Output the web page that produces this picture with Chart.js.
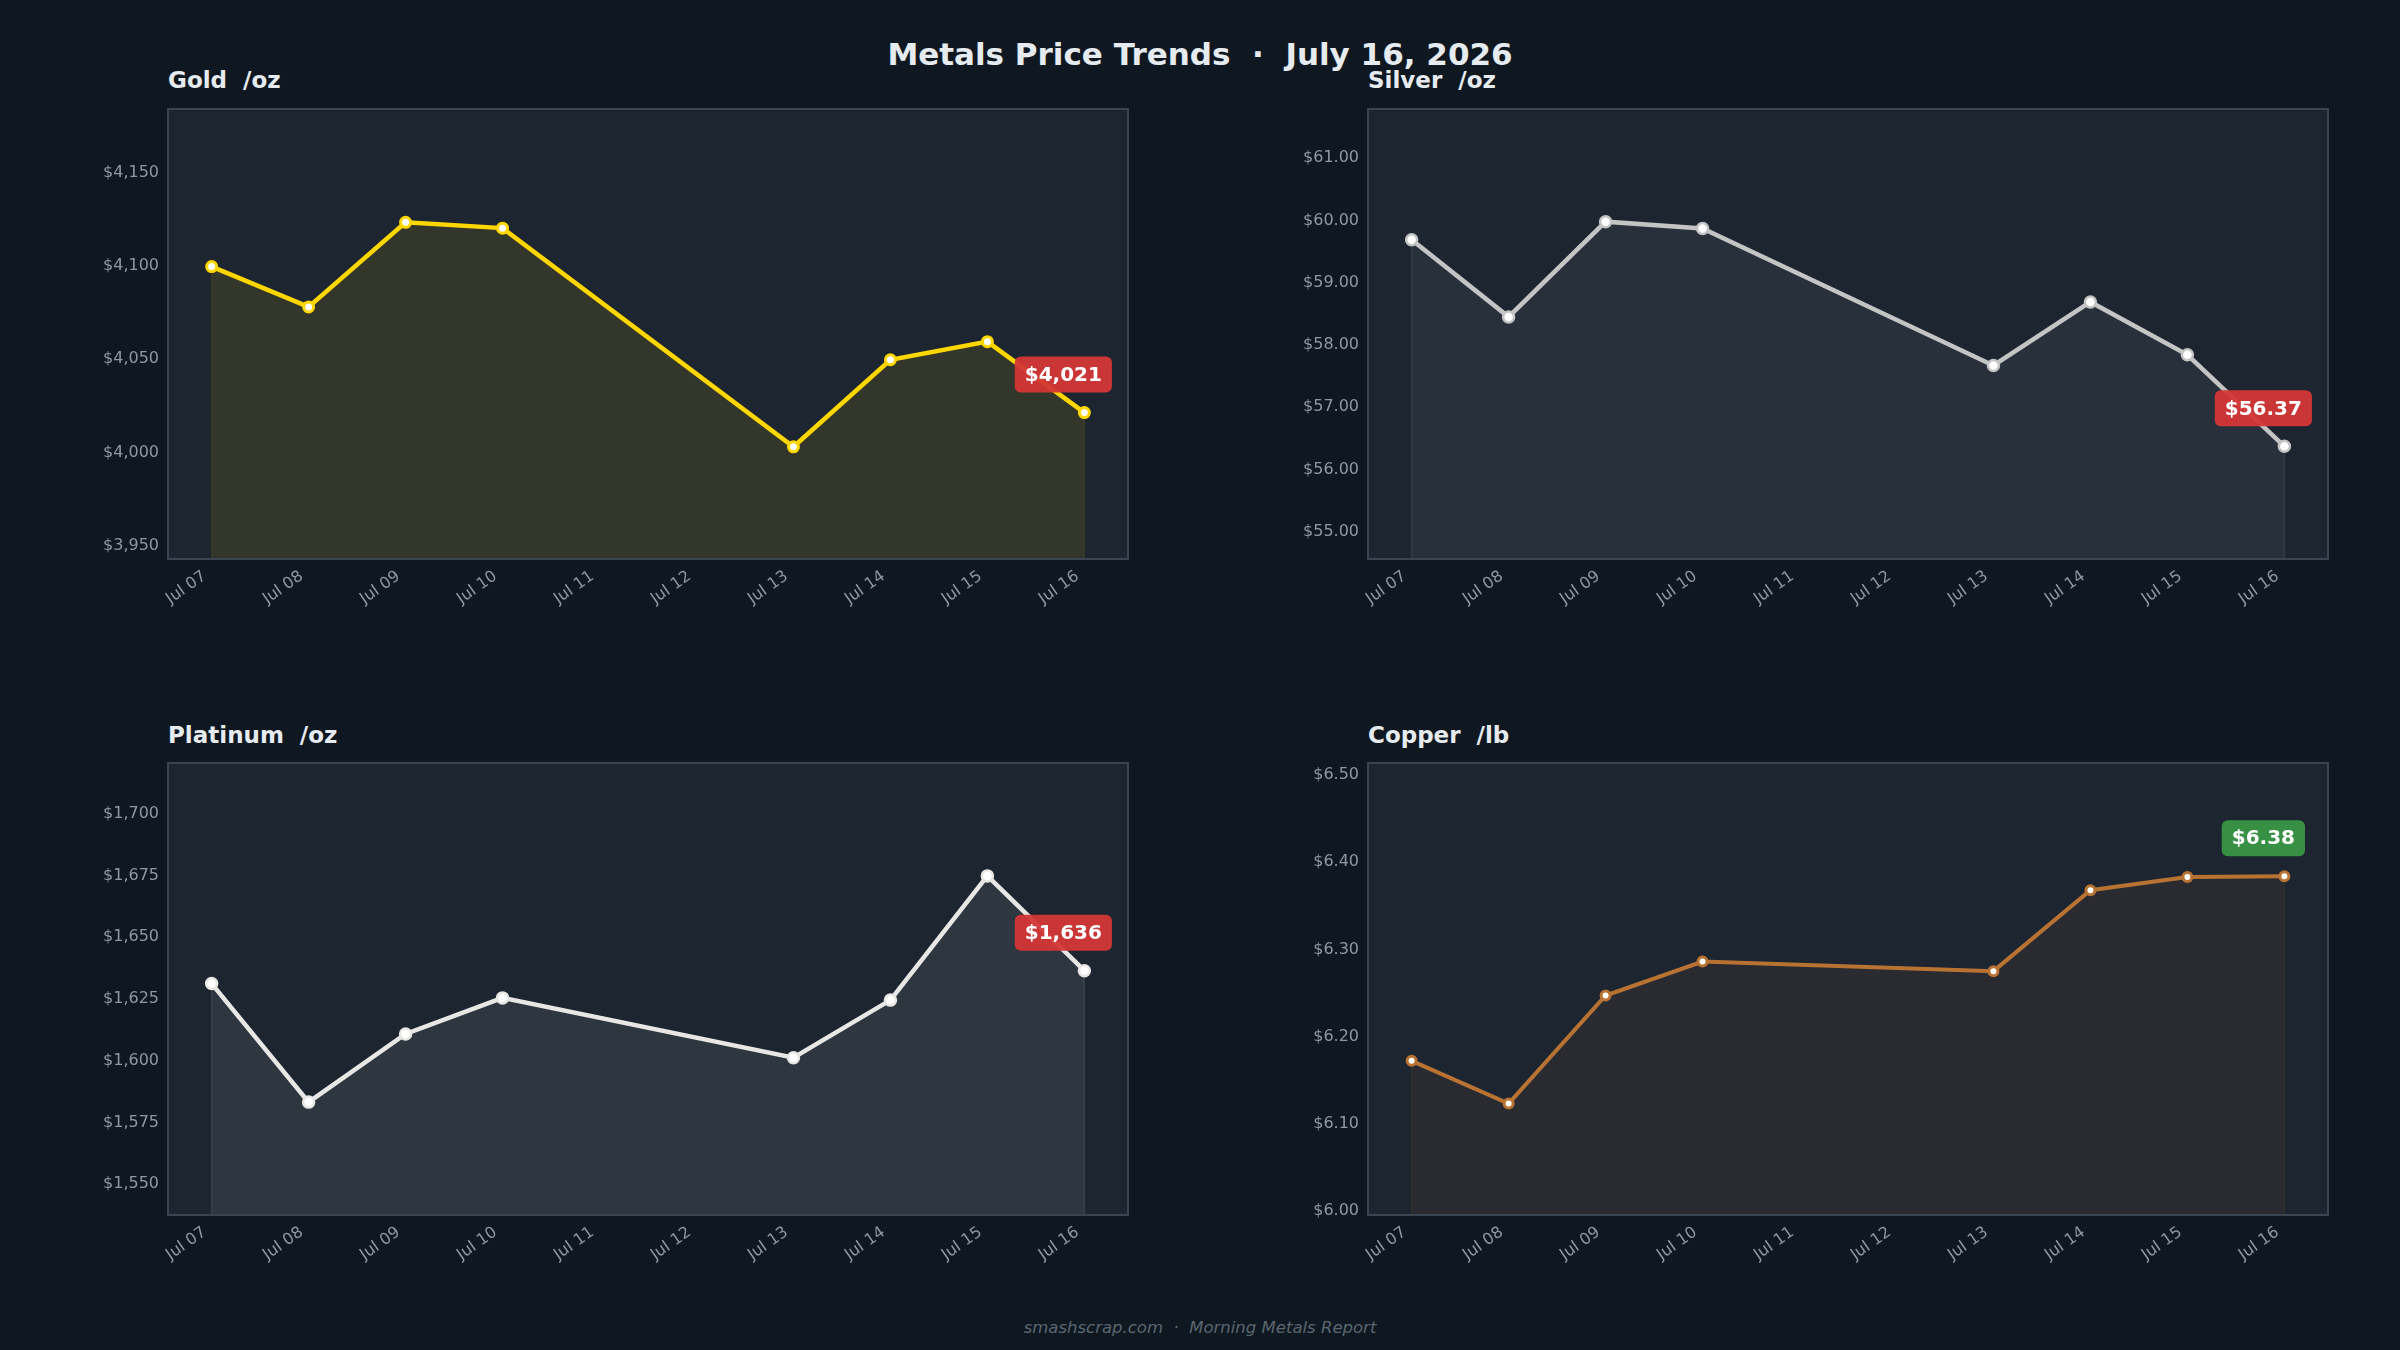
<!DOCTYPE html>
<html>
<head>
<meta charset="utf-8">
<script src="https://cdn.jsdelivr.net/npm/chart.js@4.4.1/dist/chart.umd.min.js"></script>
<style>
  html, body { margin: 0; padding: 0; background: #0f1821; }
  body { width: 2400px; height: 1350px; position: relative; overflow: hidden; font-family: "DejaVu Sans", sans-serif; }
  canvas { position: absolute; }
  .title { position: absolute; left: 0; width: 2400px; top: 36px; text-align: center; color: #e6ebf0; font-weight: bold; font-size: 31px; line-height: 36px; white-space: pre; }
  .ptitle { position: absolute; color: #e6ebf0; font-weight: bold; font-size: 23px; line-height: 26px; white-space: pre; }
  .footer { position: absolute; left: 0; width: 2400px; top: 1318px; text-align: center; color: #5b6670; font-style: italic; font-size: 16.5px; line-height: 20px; white-space: pre; }
</style>
</head>
<body>
<div class="title">Metals Price Trends  ·  July 16, 2026</div>
<div class="ptitle" style="left:168px; top:67px;">Gold  /oz</div>
<div class="ptitle" style="left:1368px; top:67px;">Silver  /oz</div>
<div class="ptitle" style="left:168px; top:722px;">Platinum  /oz</div>
<div class="ptitle" style="left:1368px; top:722px;">Copper  /lb</div>
<canvas id="gold" width="1140" height="540" style="left:0px; top:100px;"></canvas>
<canvas id="silver" width="1140" height="540" style="left:1200px; top:100px;"></canvas>
<canvas id="platinum" width="1140" height="542" style="left:0px; top:754px;"></canvas>
<canvas id="copper" width="1140" height="542" style="left:1200px; top:754px;"></canvas>
<div class="footer">smashscrap.com  ·  Morning Metals Report</div>

<script>
// dates on the x axis (Jul 11 / 12 have no prices)
const days = ['Jul 07', 'Jul 08', 'Jul 09', 'Jul 10', 'Jul 11', 'Jul 12', 'Jul 13', 'Jul 14', 'Jul 15', 'Jul 16'];

const gold     = [4099.6, 4078.0, 4123.3, 4120.2, null, null, 4003.1, 4049.7, 4059.4, 4021.4];
const silver   = [59.69, 58.45, 59.98, 59.87, null, null, 57.67, 58.69, 57.84, 56.37];
const platinum = [1631.2, 1583.2, 1610.8, 1625.4, null, null, 1601.2, 1624.5, 1674.8, 1636.4];
const copper   = [6.172, 6.123, 6.247, 6.286, null, null, 6.275, 6.368, 6.383, 6.384];

// y limits and tick steps
const goldRange = [3943, 4184];
const silverRange = [54.56, 61.79];
const platinumRange = [1537.5, 1720.5];
const copperRange = [5.995, 6.514];
const goldStep = 50, silverStep = 1, platinumStep = 25, copperStep = 0.1;

const money0 = v => '$' + Math.round(v).toLocaleString('en-US');
const money2 = v => '$' + Number(v).toFixed(2);

const panelBg = '#1c2530';
const panelBorder = '#3a4551';
const tickColor = '#8e98a3';

function panelPlugin(fmt, edge) {
  return {
    id: 'panel',
    beforeDraw(chart) {
      const { ctx, chartArea: a } = chart;
      ctx.save();
      ctx.fillStyle = panelBg;
      ctx.fillRect(a.left, a.top, a.right - a.left, a.bottom - a.top);
      ctx.restore();
    },
    beforeDatasetsDraw(chart) {
      // faint vertical edges of the filled area
      const { ctx, chartArea: a } = chart;
      const pts = chart.getDatasetMeta(0).data;
      ctx.save();
      ctx.strokeStyle = edge;
      ctx.lineWidth = 1.5;
      [pts[0], pts[pts.length - 1]].forEach(p => {
        ctx.beginPath();
        ctx.moveTo(p.x, p.y);
        ctx.lineTo(p.x, a.bottom);
        ctx.stroke();
      });
      ctx.restore();
    },
    afterDatasetsDraw(chart) {
      const { ctx, chartArea: a } = chart;
      ctx.save();
      ctx.strokeStyle = panelBorder;
      ctx.lineWidth = 2;
      ctx.strokeRect(a.left, a.top, a.right - a.left, a.bottom - a.top);
      ctx.restore();
    },
    afterDraw(chart) {
      // last-price badge
      const pts = chart.getDatasetMeta(0).data;
      const last = pts[pts.length - 1];
      const vals = chart.data.datasets[0].data;
      const up = vals[vals.length - 1].y >= vals[vals.length - 2].y;
      const text = fmt(vals[vals.length - 1].y);
      const ctx = chart.ctx;
      ctx.save();
      ctx.font = 'bold 20px "DejaVu Sans"';
      const w = ctx.measureText(text).width + 20;
      const h = 36;
      const cx = last.x - 21, cy = last.y - 38;
      ctx.fillStyle = up ? 'rgba(58,150,70,0.95)' : 'rgba(212,54,54,0.95)';
      ctx.beginPath();
      ctx.roundRect(cx - w / 2, cy - h / 2, w, h, 6);
      ctx.fill();
      ctx.fillStyle = '#ffffff';
      ctx.textAlign = 'center';
      ctx.textBaseline = 'middle';
      ctx.fillText(text, cx, cy + 1);
      ctx.restore();
    }
  };
}

function drawPanel(id, values, range, step, fmt, style) {
  const pts = days.map((d, i) => ({ x: i, y: values[i] })).filter(p => p.y !== null);
  new Chart(document.getElementById(id), {
    type: 'line',
    data: {
      datasets: [{
        data: pts,
        borderColor: style.line,
        borderWidth: style.width,
        backgroundColor: style.fill,
        fill: 'start',
        tension: 0,
        pointRadius: style.r,
        pointBorderWidth: style.bw,
        pointBorderColor: style.line,
        pointBackgroundColor: '#ffffff',
        clip: false
      }]
    },
    options: {
      responsive: false,
      animation: false,
      devicePixelRatio: 1,
      layout: { padding: { top: 9, right: 12, left: 0, bottom: 0 } },
      plugins: {
        legend: { display: false },
        tooltip: { enabled: false }
      },
      scales: {
        x: {
          type: 'linear',
          min: -0.45,
          max: 9.45,
          grid: { display: false, drawTicks: false },
          border: { display: false },
          afterFit: s => { s.height = 81; s.paddingLeft = 0; s.paddingRight = 0; },
          ticks: {
            stepSize: 1,
            includeBounds: false,
            autoSkip: false,
            minRotation: 35,
            maxRotation: 35,
            padding: 8,
            labelOffset: -7,
            color: tickColor,
            font: { family: 'DejaVu Sans', size: 16 },
            callback: v => days[v]
          }
        },
        y: {
          min: range[0],
          max: range[1],
          grid: { display: false, drawTicks: false },
          border: { display: false },
          afterFit: s => { s.width = 168; s.paddingTop = 0; s.paddingBottom = 0; },
          ticks: {
            stepSize: step,
            includeBounds: false,
            padding: 9,
            color: tickColor,
            font: { family: 'DejaVu Sans', size: 16 },
            callback: v => fmt(v)
          }
        }
      }
    },
    plugins: [panelPlugin(fmt, style.edge)]
  });
}

drawPanel('gold', gold, goldRange, goldStep, money0,
  { line: '#ffd700', fill: 'rgba(255,215,0,0.10)', edge: 'rgba(255,215,0,0.10)', width: 4.5, r: 5, bw: 3 });
drawPanel('silver', silver, silverRange, silverStep, money2,
  { line: '#c4c4c4', fill: 'rgba(192,192,192,0.08)', edge: 'rgba(192,192,192,0.12)', width: 4.5, r: 5.5, bw: 2.5 });
drawPanel('platinum', platinum, platinumRange, platinumStep, money0,
  { line: '#e8e7e4', fill: 'rgba(229,228,226,0.09)', edge: 'rgba(229,228,226,0.12)', width: 4.5, r: 5.5, bw: 2.5 });
drawPanel('copper', copper, copperRange, copperStep, money2,
  { line: '#b87333', fill: 'rgba(184,115,51,0.09)', edge: 'rgba(184,115,51,0.12)', width: 4, r: 4.5, bw: 3 });
</script>
</body>
</html>
